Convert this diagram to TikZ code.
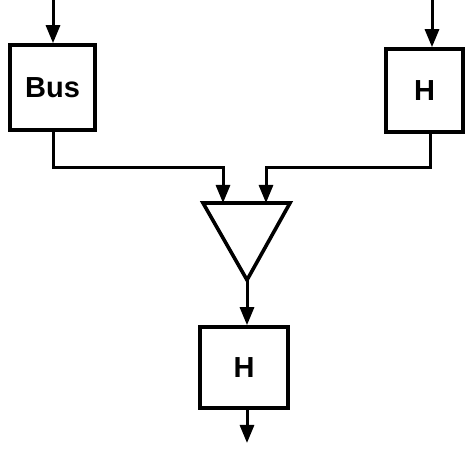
\documentclass[tikz,border=0pt]{standalone}
\usepackage{fontspec}
\setmainfont{Liberation Sans}
\usetikzlibrary{arrows.meta}
\begin{document}
\begin{tikzpicture}[x=1pt,y=-1pt,
  blk/.style={draw,line width=3.6pt,inner sep=0pt,font=\bfseries\fontsize{29}{29}\selectfont},
  conn/.style={line width=3pt},
  arr/.style={conn,-{Triangle[length=18pt,width=14pt]}}]
\useasboundingbox (0,0) rectangle (467,449);
\node[blk,minimum width=85pt,minimum height=85pt] (bus) at (52.5,87.5) {Bus};
\node[blk,minimum width=77pt,minimum height=83pt] (hr) at (424.5,90.5) {H};
\node[blk,minimum width=88pt,minimum height=81pt] (hb) at (244,367.5) {H};
% amplifier triangle
\coordinate (tl) at (203,203);
\coordinate (tr) at (290,203);
\coordinate (ap) at (247,280);
\draw[line width=3.6pt,line join=miter] (tl) -- (tr) -- (ap) -- cycle;
% inputs
\coordinate (inb) at (53,0);
\coordinate (inh) at (432,0);
\draw[arr] (inb) -- (inb |- bus.north);
\draw[arr] (inh) -- (inh |- hr.north);
% connectors to triangle
\coordinate (ob) at (53,0);
\coordinate (oh) at (430,0);
\coordinate (ta) at (223,168);
\coordinate (tb) at (266,168);
\draw[arr] (ob |- bus.south) |- (ta) -- (ta |- tl);
\draw[arr] (oh |- hr.south) |- (tb) -- (tb |- tl);
% output of triangle
\draw[arr] (ap) -- (ap |- hb.north);
\coordinate (out) at (247,443);
\draw[arr] (out |- hb.south) -- (out);
\end{tikzpicture}
\end{document}
